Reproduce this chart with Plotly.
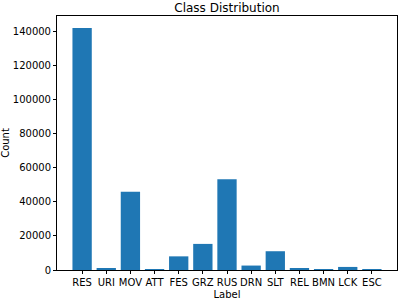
import plotly.graph_objects as go

labels = ["RES", "URI", "MOV", "ATT", "FES", "GRZ", "RUS", "DRN", "SLT", "REL", "BMN", "LCK", "ESC"]
counts = [141800, 1000, 45800, 300, 8000, 15300, 53200, 2600, 11000, 1000, 30, 1800, 400]
yticks = [0, 20000, 40000, 60000, 80000, 100000, 120000, 140000]

fig = go.Figure(go.Bar(
    x=labels, y=counts,
    marker=dict(color="#1f77b4", line=dict(width=0)),
    width=0.8,
))

ymax = max(counts) * 1.05
n = len(labels)
pad = (n - 0.2) * 0.05

fig.update_layout(
    width=400, height=300,
    margin=dict(l=57, r=3, t=16, b=30),
    paper_bgcolor="white", plot_bgcolor="white",
    font=dict(family="DejaVu Sans", size=10, color="black"),
    title=dict(text="Class Distribution", x=227 / 400,
               xanchor="center", y=1 - 8 / 300, yanchor="middle",
               font=dict(size=12, family="DejaVu Sans", color="black")),
    showlegend=False,
)
fig.update_xaxes(
    type="category", range=[-0.5 - pad + 0.1, n - 0.5 + pad - 0.1],
    showline=True, linecolor="black", linewidth=1, mirror=True,
    ticks="outside", ticklen=3, tickcolor="black", showgrid=False,
    automargin=False,
    title=dict(text="Label", standoff=5, font=dict(size=10)),
)
fig.update_yaxes(
    range=[0, ymax], tickvals=yticks, ticktext=[str(v) for v in yticks],
    showline=True, linecolor="black", linewidth=1, mirror=True,
    ticks="outside", ticklen=3, tickcolor="black", showgrid=False, zeroline=False,
    automargin=False,
    title=dict(text="Count", standoff=4, font=dict(size=10)),
)

fig.write_html("out.html")
